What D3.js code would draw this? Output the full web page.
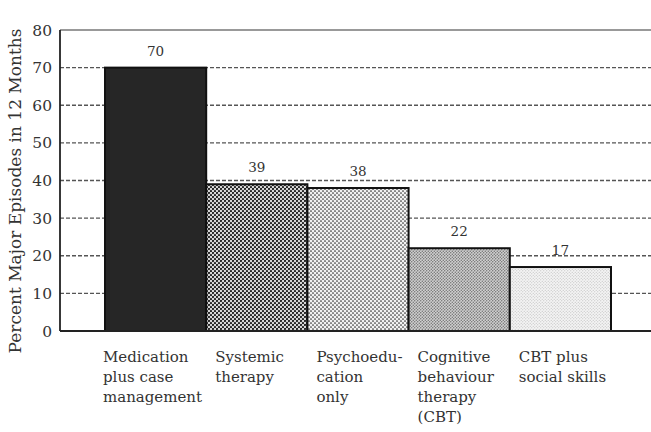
<!DOCTYPE html>
<html>
<head>
<meta charset="utf-8">
<script src="https://cdn.jsdelivr.net/npm/d3@7"></script>
<style>
  body { margin: 0; background: #fff; }
  svg { font-family: "DejaVu Serif", serif; }
</style>
</head>
<body>
<div id="chart"></div>
<script>
// data
const categories = ['med', 'sys', 'psy', 'cbt', 'cbtss']
const labelLines = [
  ['Medication', 'plus case', 'management'],
  ['Systemic', 'therapy'],
  ['Psychoedu-', 'cation', 'only'],
  ['Cognitive', 'behaviour', 'therapy', '(CBT)'],
  ['CBT plus', 'social skills']
]
const values = [70, 39, 38, 22, 17]
const yTicks = [0, 10, 20, 30, 40, 50, 60, 70, 80]
const gridTicks = [10, 20, 30, 40, 50, 60, 70]

const width = 651, height = 432
const svg = d3.select('#chart').append('svg')
  .attr('width', width)
  .attr('height', height)

// textures for the bars
const defs = svg.append('defs')
function dots(id, size, bg, fg, r) {
  const p = defs.append('pattern')
    .attr('id', id)
    .attr('patternUnits', 'userSpaceOnUse')
    .attr('width', size).attr('height', size)
  p.append('rect').attr('width', size).attr('height', size).attr('fill', bg)
  p.append('circle').attr('cx', size / 4).attr('cy', size / 4).attr('r', r).attr('fill', fg)
  p.append('circle').attr('cx', size * 3 / 4).attr('cy', size * 3 / 4).attr('r', r).attr('fill', fg)
}
dots('p2', 4, '#d8d8d8', '#1a1a1a', 1.1)
dots('p3', 4, '#f2f2f2', '#333', 0.85)
dots('p4', 3, '#d0d0d0', '#666', 0.7)
dots('p5', 3, '#f4f4f4', '#bbb', 0.6)
const fills = ['#262626', 'url(#p2)', 'url(#p3)', 'url(#p4)', 'url(#p5)']

const x = d3.scaleBand()
  .domain(categories)
  .range([105, 611])
  .padding(0)

const y = d3.scaleLinear()
  .domain([0, 80])
  .range([331, 30])

const axisLeft = 60

// dashed gridlines
svg.append('g').selectAll('line')
  .data(gridTicks)
  .enter().append('line')
  .attr('x1', axisLeft).attr('x2', width)
  .attr('y1', d => y(d)).attr('y2', d => y(d))
  .attr('stroke', '#555')
  .attr('stroke-width', 1.4)
  .attr('stroke-dasharray', '4,2')

// top frame line
svg.append('line')
  .attr('x1', axisLeft).attr('x2', width)
  .attr('y1', y(80)).attr('y2', y(80))
  .attr('stroke', '#777').attr('stroke-width', 1.5)

// bars
svg.append('g').selectAll('rect')
  .data(values)
  .enter().append('rect')
  .attr('x', (d, i) => x(categories[i]))
  .attr('y', d => y(d))
  .attr('width', x.bandwidth())
  .attr('height', d => y(0) - y(d))
  .attr('fill', (d, i) => fills[i])
  .attr('stroke', '#111')
  .attr('stroke-width', 2)

// value labels
svg.append('g').selectAll('text')
  .data(values)
  .enter().append('text')
  .attr('x', (d, i) => x(categories[i]) + x.bandwidth() / 2)
  .attr('y', d => y(d) - 12)
  .attr('text-anchor', 'middle')
  .attr('font-size', 13.5)
  .attr('fill', '#333')
  .text(d => d)

// axes lines
svg.append('line')
  .attr('x1', axisLeft).attr('x2', axisLeft)
  .attr('y1', y(80)).attr('y2', y(0))
  .attr('stroke', '#222').attr('stroke-width', 1.8)
svg.append('line')
  .attr('x1', axisLeft).attr('x2', width)
  .attr('y1', y(0)).attr('y2', y(0))
  .attr('stroke', '#222').attr('stroke-width', 1.8)

// y tick labels
svg.append('g').selectAll('text')
  .data(yTicks)
  .enter().append('text')
  .attr('x', 52)
  .attr('y', d => y(d) + 5.5)
  .attr('text-anchor', 'end')
  .attr('font-size', 15.5)
  .attr('fill', '#333')
  .text(d => d)

// y title
svg.append('text')
  .attr('transform', 'translate(21,' + 191 + ') rotate(-90)')
  .attr('text-anchor', 'middle')
  .attr('font-size', 17)
  .attr('fill', '#333')
  .text('Percent Major Episodes in 12 Months')

// category labels, left aligned under each bar
const cat = svg.append('g').selectAll('text')
  .data(labelLines)
  .enter().append('text')
  .attr('x', (d, i) => x(categories[i]) + (i === 0 ? -2 : 9))
  .attr('y', 362)
  .attr('font-size', 15)
  .attr('fill', '#333')
cat.selectAll('tspan')
  .data(d => d)
  .enter().append('tspan')
  .attr('x', function() { return d3.select(this.parentNode).attr('x') })
  .attr('dy', (d, j) => j === 0 ? 0 : 20)
  .text(d => d)
</script>
</body>
</html>
